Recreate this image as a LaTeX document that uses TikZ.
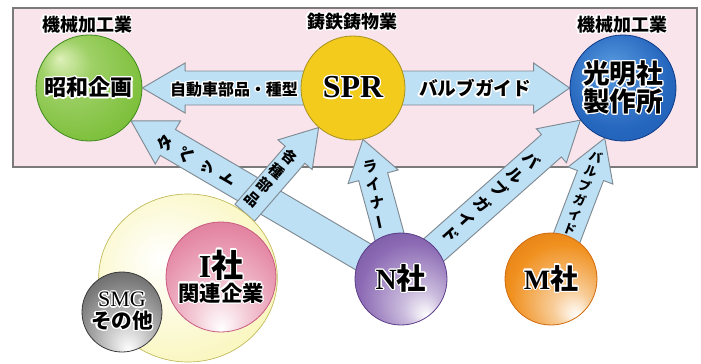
\documentclass[tikz,border=0pt]{standalone}
\usepackage{fontspec}
\setmainfont{Liberation Serif}
\newfontfamily\jp{Noto Sans CJK JP}
\usepackage{contour}
\contourlength{0.9pt}
\usetikzlibrary{calc,shapes.geometric}
\definecolor{pinkbg}{HTML}{F9E4EC}
\definecolor{boxline}{HTML}{7A7A7A}
\definecolor{arrowfill}{HTML}{BDE0F5}
\definecolor{arrowline}{HTML}{7F8A92}
\definecolor{greenHi}{HTML}{DDF0B8}
\definecolor{greenMid}{HTML}{7CBF3A}
\definecolor{greenDark}{HTML}{3F8A1C}
\definecolor{blueHi}{HTML}{5A9BE0}
\definecolor{blueMid}{HTML}{2566BE}
\definecolor{blueDark}{HTML}{0E3A85}
\definecolor{purpMid}{HTML}{8D6CB5}
\definecolor{purpDark}{HTML}{5B3D88}
\definecolor{orMid}{HTML}{F0901E}
\definecolor{orDark}{HTML}{D06A0E}
\definecolor{pinkMid}{HTML}{E58AA6}
\definecolor{pinkDark}{HTML}{C85A80}
\definecolor{grayMid}{HTML}{7A7A7A}
\definecolor{grayDark}{HTML}{3A3A3A}
\definecolor{ylwMid}{HTML}{F8F3A8}
\definecolor{ylwDark}{HTML}{F0E66E}
\definecolor{sprFill}{HTML}{F2CB1D}
\definecolor{sprLine}{HTML}{A8901E}
\pgfdeclareradialshading{shGreen}{\pgfpoint{-14bp}{14bp}}{color(0bp)=(greenHi);color(12bp)=(greenMid!65!greenHi);color(32bp)=(greenMid);color(50bp)=(greenDark)}
\pgfdeclareradialshading{shBlue}{\pgfpoint{-6bp}{10bp}}{color(0bp)=(blueHi);color(25bp)=(blueMid);color(42bp)=(blueMid!80!blueDark);color(50bp)=(blueDark)}
\pgfdeclareradialshading{shPurple}{\pgfpoint{14bp}{-20bp}}{color(0bp)=(white);color(10bp)=(purpMid!45);color(28bp)=(purpMid);color(50bp)=(purpDark)}
\pgfdeclareradialshading{shOrange}{\pgfpoint{14bp}{-20bp}}{color(0bp)=(white);color(10bp)=(orMid!45);color(28bp)=(orMid);color(50bp)=(orDark)}
\pgfdeclareradialshading{shPink}{\pgfpoint{0bp}{-24bp}}{color(0bp)=(white);color(12bp)=(pinkMid!45);color(30bp)=(pinkMid);color(50bp)=(pinkDark)}
\pgfdeclareradialshading{shGray}{\pgfpoint{4bp}{-24bp}}{color(0bp)=(white);color(12bp)=(grayMid!40);color(30bp)=(grayMid);color(50bp)=(grayDark)}
\pgfdeclareradialshading{shYellow}{\pgfpoint{-8bp}{6bp}}{color(0bp)=(white);color(20bp)=(ylwMid!50);color(40bp)=(ylwMid);color(50bp)=(ylwDark)}
\pgfdeclarelayer{back}
\pgfdeclarelayer{mid}
\pgfsetlayers{back,mid,main}
\newcommand{\hl}[1]{\contour{white}{#1}}
\newcommand{\vbar}{\rotatebox[origin=c]{90}{ー}}
\newcommand{\blockarrow}[5]{%
  \coordinate (bahead) at ($(#2)!#5!(#1)$);
  \draw[barrow] ($(#1)!#3!90:(#2)$) -- ($(bahead)!#3!90:(#2)$) -- ($(bahead)!#4!90:(#2)$) -- (#2) -- ($(bahead)!#4!-90:(#2)$) -- ($(bahead)!#3!-90:(#2)$) -- ($(#1)!#3!-90:(#2)$) -- cycle;}
\begin{document}
\begin{tikzpicture}[x=0.75pt,y=-0.75pt,
  ball/.style={circle, inner sep=0pt, align=center, line width=0.6pt},
  barrow/.style={fill=arrowfill, draw=arrowline, line width=0.7pt, line join=miter},
  head/.style={font=\jp\bfseries\fontsize{13.5}{15}\selectfont, inner sep=0pt},
  alab/.style={inner sep=0pt, align=center},
  vlab/.style={inner sep=0pt, align=center}]
\useasboundingbox (0,0) rectangle (701,364);
\begin{pgfonlayer}{back}
\draw[fill=pinkbg, draw=boxline, line width=1.1pt] (13,8) rectangle (697,167);
\end{pgfonlayer}
% headings
\node[head] (h1) at (87,25) {\hl{機械加工業}};
\node[head] (h2) at (352,22) {\hl{鋳鉄鋳物業}};
\node[head] (h3) at (622,25) {\hl{機械加工業}};
% circles
\node[ball, shade, shading=shGreen, draw=greenDark, minimum size=79.5pt,
  font=\jp\bfseries\fontsize{16.5}{18}\selectfont] (showa) at (89,88) {\hl{昭和企画}};
\node[ball, fill=sprFill, draw=sprLine, minimum size=78pt,
  font=\bfseries\fontsize{24}{26}\selectfont] (spr) at (353,88) {\hl{SPR}};
\node[ball, shade, shading=shBlue, draw=blueDark, minimum size=79.5pt,
  font=\jp\bfseries\fontsize{20}{20.5}\selectfont] (hikari) at (623,88) {\hl{光明社}\\\hl{製作所}};
\node[ellipse, inner sep=0pt, shade, shading=shYellow, draw=ylwDark!80!black, line width=0.5pt,
  minimum width=134pt, minimum height=126pt] (group) at (188,278) {};
\node[ball, shade, shading=shPink, draw=pinkDark, minimum size=82.5pt] (isha) at (221,277)
  {\hl{\fontsize{24}{24}\selectfont\bfseries I\jp 社}\\[0pt]\hl{\jp\bfseries\fontsize{16}{18}\selectfont 関連企業}};
\node[ball, shade, shading=shGray, draw=grayDark, minimum size=60pt] (smg) at (122,312)
  {\hl{\fontsize{16.5}{17}\selectfont SMG}\\[1pt]\hl{\jp\bfseries\fontsize{15.5}{17}\selectfont その他}};
\node[ball, shade, shading=shPurple, draw=purpDark, minimum size=69pt] (nsha) at (401,279)
  {\hl{\fontsize{22}{22}\selectfont\bfseries N\jp 社}};
\node[ball, shade, shading=shOrange, draw=orDark, minimum size=69pt] (msha) at (551,279)
  {\hl{\fontsize{21}{22}\selectfont\bfseries M\jp 社}};
% block arrows
\begin{pgfonlayer}{mid}
\blockarrow{spr.center}{showa.0}{12.75pt}{18.75pt}{32pt}
\blockarrow{spr.center}{hikari.180}{12.75pt}{18.75pt}{27pt}
\blockarrow{nsha.center}{showa.-38}{11.25pt}{18.75pt}{32pt}
\blockarrow{group.49}{spr.229}{9.75pt}{17pt}{27pt}
\blockarrow{nsha.center}{spr.-79}{11.25pt}{19.5pt}{29pt}
\blockarrow{nsha.center}{hikari.217}{11.25pt}{17pt}{29pt}
\blockarrow{msha.center}{hikari.250}{10.5pt}{18pt}{30pt}
\end{pgfonlayer}
% arrow labels
\node[alab, font=\jp\bfseries\fontsize{12}{13}\selectfont] (l1) at (234,90) {\hl{自動車部品・種型}};
\node[alab, font=\jp\bfseries\fontsize{14}{15}\selectfont] (l2) at (475,89) {\hl{バルブガイド}};
\node[vlab, font=\jp\bfseries\fontsize{12.5}{18}\selectfont, rotate=60] (l3) at (196,161) {タ\\ペ\\ッ\\ト};
\node[vlab, font=\jp\bfseries\fontsize{11}{14}\selectfont, rotate=-41] (l4) at (271,178) {各\\種\\部\\品};
\node[vlab, font=\jp\bfseries\fontsize{11}{13.5}\selectfont, rotate=12] (l5) at (376,195) {ラ\\イ\\ナ\\\vbar};
\node[vlab, font=\jp\bfseries\fontsize{12}{16.5}\selectfont, rotate=-48] (l6) at (491,197) {バ\\ル\\ブ\\ガ\\イ\\ド};
\node[vlab, font=\jp\bfseries\fontsize{9.5}{11.5}\selectfont, rotate=-20] (l7) at (583,193) {バ\\ル\\ブ\\ガ\\イ\\ド};
\end{tikzpicture}
\end{document}
